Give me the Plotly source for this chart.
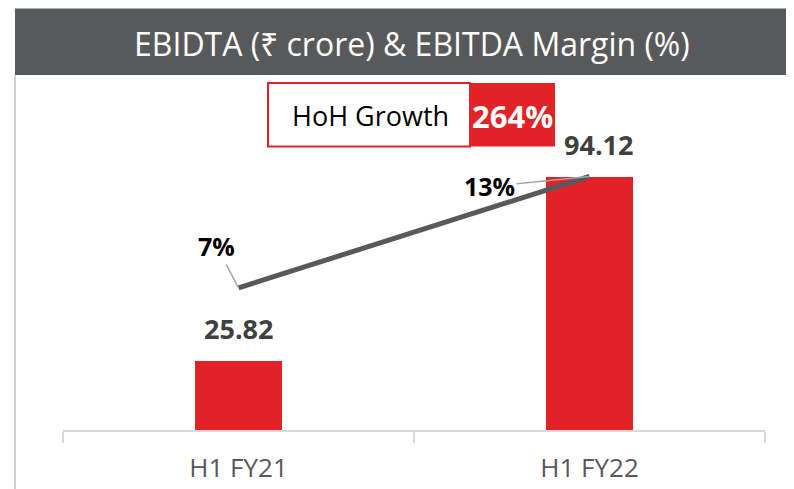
import plotly.graph_objects as go

# data
periods = ["H1 FY21", "H1 FY22"]
ebitda = [25.82, 94.12]
margin = [7, 13]
ebitda_labels = ["25.82", "94.12"]
margin_labels = ["7%", "13%"]
growth_label = "264%"

# plot area in page pixels (the page puts the figure at 8,8)
OFF = 8
L, R, T, B = 63, 765, 80, 432
W, H = R - L, B - T


def px_x(p):
    return (p - L) / W


def px_y(p):
    return (B - p) / H


RED = "#e32227"
DARK = "#58595b"
FONT = "Open Sans"

fig = go.Figure()

fig.add_trace(go.Bar(x=periods, y=ebitda, width=0.25, marker=dict(color=RED, line=dict(width=0)),
                     showlegend=False, hoverinfo="skip"))
fig.add_trace(go.Scatter(x=periods, y=margin, yaxis="y2", mode="lines",
                         line=dict(color="#595959", width=5), showlegend=False, hoverinfo="skip"))

# value labels on bars
for p, v, t, dx in zip(periods, ebitda, ebitda_labels, [0, 9]):
    fig.add_annotation(x=p, y=v, text="<b>" + t + "</b>", showarrow=False, yanchor="bottom",
                       yshift=12, xshift=dx, font=dict(size=27, color="#404040", family=FONT))

# margin labels with leader lines
for p, v, t, ax, ay in zip(periods, margin, margin_labels, [-22, -100], [-42, 10]):
    fig.add_annotation(x=p, y=v, yref="y2", text="<b>" + t + "</b>", showarrow=True, arrowhead=0,
                       arrowwidth=1.5, arrowcolor="#a6a6a6", ax=ax, ay=ay,
                       font=dict(size=25, color="#000000", family=FONT))

# title bar
fig.add_shape(type="rect", xref="paper", yref="paper", x0=px_x(15), x1=px_x(810), y0=px_y(75), y1=px_y(8),
              fillcolor=DARK, line=dict(width=0), layer="below")
fig.add_shape(type="line", xref="paper", yref="paper", x0=px_x(15), x1=px_x(15), y0=px_y(500), y1=px_y(75),
              line=dict(color="#d0d0d0", width=2))
fig.add_annotation(xref="paper", yref="paper", x=px_x(412), y=px_y(43), xanchor="center", yanchor="middle",
                   text="EBIDTA (₹ crore) & EBITDA Margin (%)", showarrow=False,
                   font=dict(size=32, color="white", family=FONT))

# growth box
fig.add_shape(type="rect", xref="paper", yref="paper", x0=px_x(268), x1=px_x(470), y0=px_y(147), y1=px_y(83),
              fillcolor="white", line=dict(color=RED, width=2))
fig.add_shape(type="rect", xref="paper", yref="paper", x0=px_x(470), x1=px_x(555), y0=px_y(147), y1=px_y(83),
              fillcolor=RED, line=dict(width=0))
fig.add_annotation(xref="paper", yref="paper", x=px_x(370), y=px_y(116), xanchor="center", yanchor="middle",
                   text="HoH Growth", showarrow=False, font=dict(size=27, color="black", family=FONT))
fig.add_annotation(xref="paper", yref="paper", x=px_x(512), y=px_y(116), xanchor="center", yanchor="middle",
                   text="<b>" + growth_label + "</b>", showarrow=False,
                   font=dict(size=31, color="white", family=FONT))

# scales: primary 0 at B, 94.12 at 178 px
k1 = (B - 178) / 94.12
# secondary: 7 at 289 px, 13 at 177 px
k2 = (289 - 177) / 6.0
y2_lo = 7 - (B - 289) / k2
y2_hi = 7 + (289 - T) / k2

fig.update_layout(
    width=794, height=489, autosize=False,
    margin=dict(l=L - OFF, r=794 - (R - OFF), t=T - OFF, b=489 - (B - OFF)),
    paper_bgcolor="white", plot_bgcolor="white",
    font=dict(family=FONT),
    bargap=0,
    xaxis=dict(range=[-0.5, 1.5], showline=True, linecolor="#d9d9d9", linewidth=1.5,
               ticks="outside", tickson="boundaries", ticklen=11, tickcolor="#d9d9d9", tickwidth=1.5,
               tickfont=dict(size=26, color="#595959"), ticklabelstandoff=14, showgrid=False, fixedrange=True),
    yaxis=dict(range=[0, H / k1], visible=False, showgrid=False),
    yaxis2=dict(range=[y2_lo, y2_hi], overlaying="y", visible=False, showgrid=False),
)

fig.write_html("out.html")
